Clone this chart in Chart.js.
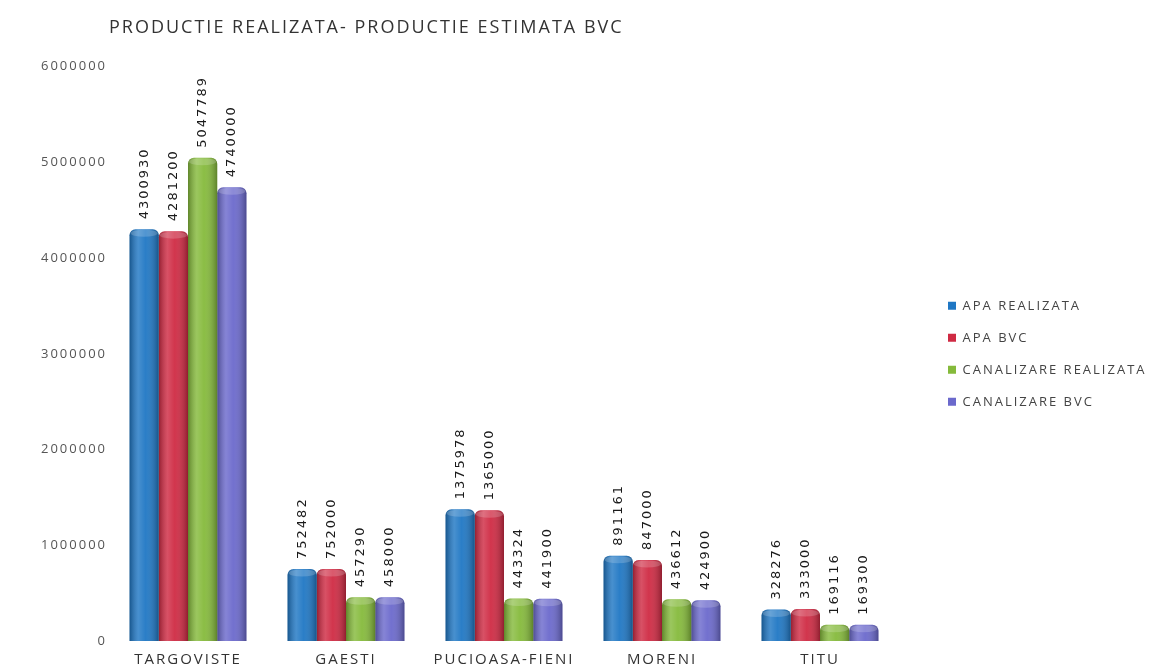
<!DOCTYPE html>
<html>
<head>
<meta charset="utf-8">
<script src="https://cdn.jsdelivr.net/npm/chart.js@4/dist/chart.umd.min.js"></script>
<style>
  html, body { margin: 0; padding: 0; background: #ffffff; }
  #wrap { width: 1163px; height: 672px; position: relative; }
</style>
</head>
<body>
<div id="wrap"><canvas id="c"></canvas></div>
<script>
const categories = ['TARGOVISTE', 'GAESTI', 'PUCIOASA-FIENI', 'MORENI', 'TITU'];
const seriesNames = ['APA REALIZATA', 'APA BVC', 'CANALIZARE REALIZATA', 'CANALIZARE BVC'];
const apaRealizata = [4300930, 752482, 1375978, 891161, 328276];
const apaBvc = [4281200, 752000, 1365000, 847000, 333000];
const canalizareRealizata = [5047789, 457290, 443324, 436612, 169116];
const canalizareBvc = [4740000, 458000, 441900, 424900, 169300];
const yMax = 6000000;
const yStep = 1000000;
const titleText = 'PRODUCTIE REALIZATA- PRODUCTIE ESTIMATA BVC';

const colors = ['#1f77c4', '#cf2a43', '#85ba3b', '#6b69cc'];
const spacing = '2px';

const spacingPlugin = {
  id: 'letterSpacing',
  afterInit(chart) {
    const lg = chart.legend;
    if (lg && !lg._fixedFit) {
      const origFit = lg.fit;
      lg.fit = function () { origFit.call(this); this.width = 234; };
      lg._fixedFit = true;
    }
  },
  beforeLayout(chart) { chart.ctx.letterSpacing = spacing; },
  beforeDraw(chart) { chart.ctx.letterSpacing = spacing; }
};

const cylinderPlugin = {
  id: 'cylinder',
  afterDatasetsDraw(chart) {
    const ctx = chart.ctx;
    ctx.save();
    chart.data.datasets.forEach((ds, di) => {
      const meta = chart.getDatasetMeta(di);
      meta.data.forEach((el) => {
        const w = el.width, left = el.x - w / 2, top = el.y, h = el.base - el.y;
        const g = ctx.createLinearGradient(left, 0, left + w, 0);
        g.addColorStop(0, 'rgba(0,0,0,0.28)');
        g.addColorStop(0.3, 'rgba(255,255,255,0.18)');
        g.addColorStop(0.55, 'rgba(255,255,255,0.05)');
        g.addColorStop(1, 'rgba(0,0,0,0.30)');
        ctx.beginPath();
        ctx.roundRect(left, top, w, h, [6, 6, 0, 0]);
        ctx.fillStyle = g;
        ctx.fill();
        ctx.beginPath();
        ctx.ellipse(el.x, top + 4, w / 2 - 1, 3.5, 0, 0, Math.PI * 2);
        ctx.fillStyle = 'rgba(255,255,255,0.18)';
        ctx.fill();
      });
    });
    ctx.restore();
  }
};

const valueLabelPlugin = {
  id: 'valueLabels',
  afterDatasetsDraw(chart) {
    const ctx = chart.ctx;
    ctx.save();
    ctx.font = '13px "DejaVu Sans"';
    ctx.letterSpacing = spacing;
    ctx.fillStyle = '#1a1a1a';
    ctx.textAlign = 'left';
    ctx.textBaseline = 'middle';
    chart.data.datasets.forEach((ds, di) => {
      const meta = chart.getDatasetMeta(di);
      meta.data.forEach((el, i) => {
        ctx.save();
        ctx.translate(el.x, el.y - 10);
        ctx.rotate(-Math.PI / 2);
        ctx.fillText(String(ds.data[i]), 0, 0);
        ctx.restore();
      });
    });
    ctx.restore();
  }
};

const seriesData = [apaRealizata, apaBvc, canalizareRealizata, canalizareBvc];

new Chart(document.getElementById('c'), {
  type: 'bar',
  data: {
    labels: categories,
    datasets: seriesNames.map((name, i) => ({
      label: name,
      data: seriesData[i],
      backgroundColor: colors[i],
      borderRadius: { topLeft: 6, topRight: 6 },
      borderSkipped: 'bottom',
      barPercentage: 1.0,
      categoryPercentage: 0.74
    }))
  },
  options: {
    responsive: true,
    maintainAspectRatio: false,
    animation: false,
    layout: { padding: { left: 0, right: 0, top: 0, bottom: 0 } },
    plugins: {
      title: {
        display: true,
        text: titleText,
        fullSize: false,
        align: 'start',
        color: '#333333',
        font: { family: 'Open Sans', size: 18, weight: 'normal' },
        padding: { top: 17, bottom: 28 }
      },
      legend: {
        display: true,
        position: 'right',
        fullSize: false,
        labels: {
          boxWidth: 8,
          boxHeight: 8,
          padding: 19,
          color: '#444444',
          font: { family: 'Open Sans', size: 13 }
        }
      },
      tooltip: { enabled: false }
    },
    scales: {
      x: {
        grid: { display: false, drawTicks: false },
        border: { display: false },
        ticks: {
          color: '#333333',
          padding: 10,
          maxRotation: 0,
          autoSkip: false,
          font: { family: 'Open Sans', size: 15 }
        },
        afterFit(s) { s.height = 31; }
      },
      y: {
        min: 0,
        max: yMax,
        grid: { display: false, drawTicks: false },
        border: { display: false },
        ticks: {
          stepSize: yStep,
          padding: 2,
          color: '#555555',
          font: { family: 'Open Sans', size: 13 },
          callback: (v) => String(v)
        },
        afterFit(s) { s.width = 109; }
      },
      yRight: {
        position: 'right',
        display: true,
        grid: { display: false, drawTicks: false },
        border: { display: false },
        ticks: { display: false },
        afterFit(s) { s.width = 30; }
      }
    }
  },
  plugins: [spacingPlugin, cylinderPlugin, valueLabelPlugin]
});
</script>
</body>
</html>
